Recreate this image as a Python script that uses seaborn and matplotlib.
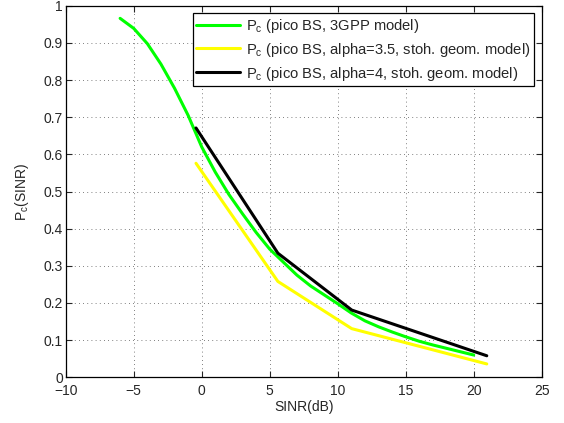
import numpy as np
import pandas as pd
import matplotlib
matplotlib.use("Agg")
import matplotlib.pyplot as plt
import seaborn as sns

# Pc(SINR) curves
sinr_3gpp = [-6, -5, -4, -3, -2, -1, 0, 1, 2, 3, 4, 5, 6, 7, 8, 9, 10,
             11, 12, 13, 14, 15, 16, 17, 18, 19, 20]
pc_3gpp = [0.966, 0.939, 0.898, 0.843, 0.778, 0.705, 0.62, 0.552, 0.492,
           0.44, 0.39, 0.345, 0.31, 0.275, 0.246, 0.222, 0.198, 0.173,
           0.152, 0.136, 0.122, 0.109, 0.097, 0.087, 0.078, 0.069, 0.06]

sinr_sg = [-0.42, 5.6, 11.03, 20.96]
pc_alpha35 = [0.576, 0.258, 0.131, 0.036]
pc_alpha4 = [0.671, 0.334, 0.181, 0.058]

labels = [r"P$_\mathregular{c}$ (pico BS, 3GPP model)",
          r"P$_\mathregular{c}$ (pico BS, alpha=3.5, stoh. geom. model)",
          r"P$_\mathregular{c}$ (pico BS, alpha=4, stoh. geom. model)"]
colors = ["#00ff00", "#ffff00", "#000000"]

sns.set_style("ticks")
plt.rcParams["font.family"] = ["Liberation Sans", "DejaVu Sans"]
plt.rcParams["mathtext.fontset"] = "custom"
plt.rcParams["mathtext.rm"] = "Liberation Sans"
plt.rcParams["mathtext.it"] = "Liberation Sans"

fig = plt.figure(figsize=(5.64, 4.23), dpi=100)
ax = fig.add_axes([0.1165, 0.108, 0.844, 0.8785])

series = [(sinr_3gpp, pc_3gpp), (sinr_sg, pc_alpha35), (sinr_sg, pc_alpha4)]
for (xs, ys), lab, col in zip(series, labels, colors):
    df = pd.DataFrame({"sinr": xs, "pc": ys})
    sns.lineplot(data=df, x="sinr", y="pc", ax=ax, color=col, lw=2.2,
                 label=lab, sort=False)

ax.set_xlim(-10, 25)
ax.set_ylim(0, 1)
ax.set_xticks(np.arange(-10, 26, 5))
ax.set_yticks(np.arange(0, 1.01, 0.1))
ax.set_xticklabels([str(v).replace("-", "\u2212") for v in range(-10, 26, 5)])
ax.set_yticklabels(["0", "0.1", "0.2", "0.3", "0.4", "0.5", "0.6", "0.7",
                    "0.8", "0.9", "1"])
ax.grid(True, linestyle=(0, (1, 4)), color="#555555", linewidth=0.6)
ax.tick_params(direction="in", top=True, right=True, labelsize=10,
               length=4, width=0.8, pad=2)
ax.tick_params(axis="x", pad=5)
for sp in ax.spines.values():
    sp.set_color("black")
    sp.set_linewidth(0.9)

ax.set_xlabel("SINR(dB)", fontsize=10, labelpad=1)
ax.set_ylabel(r"P$_\mathregular{c}$(SINR)", fontsize=10, labelpad=9)

leg = ax.legend(loc="upper right", fontsize=10.6, frameon=True, fancybox=False,
                edgecolor="black", framealpha=1, borderaxespad=0.5,
                handlelength=3.0, labelspacing=0.4, borderpad=0.25,
                handletextpad=0.4)
leg.get_frame().set_linewidth(0.9)

fig.savefig("out.png", dpi=100)
